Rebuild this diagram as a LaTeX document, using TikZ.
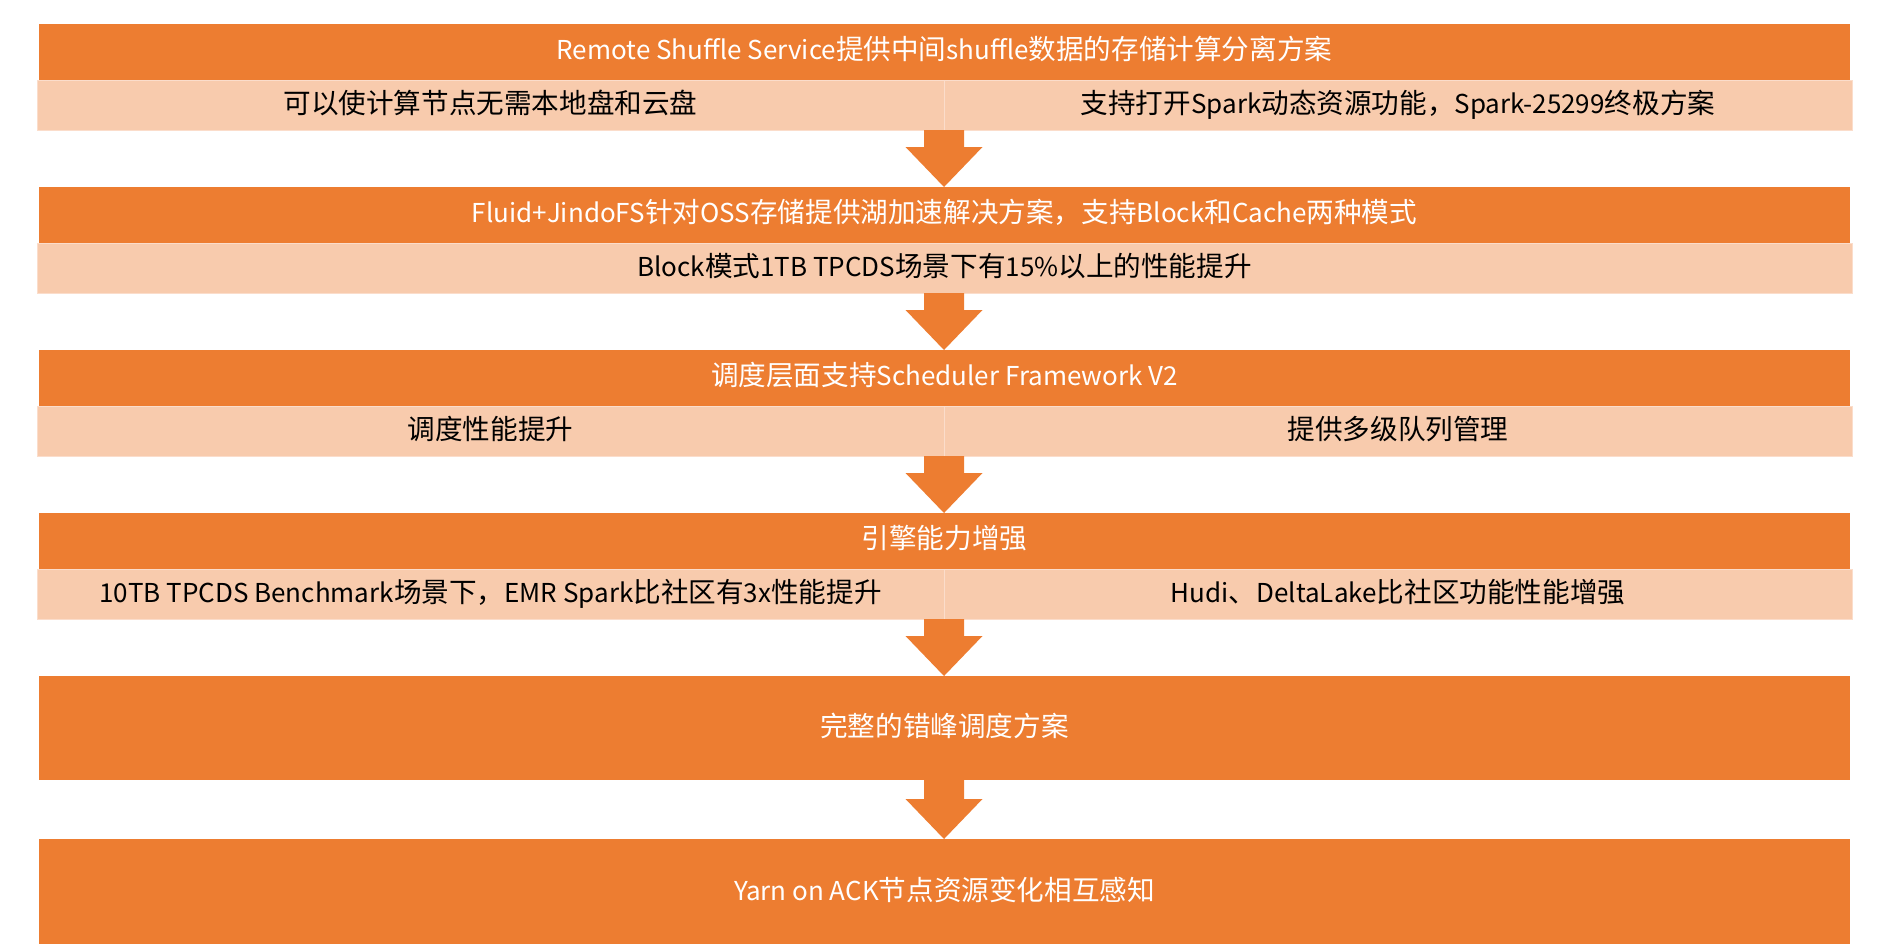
\documentclass[tikz,border=0pt]{standalone}
\usepackage{fontspec}
\setmainfont{Noto Sans CJK SC}
\newfontfamily\enfont[Scale=0.942]{Noto Sans CJK SC}
\newcommand{\enrun}[1]{{\enfont #1}}
\usetikzlibrary{positioning,calc}

\definecolor{accent}{HTML}{ED7D31}
\definecolor{accentlight}{HTML}{F8CBAD}
\definecolor{cellrule}{HTML}{FBDDCB}

% block arrow from a start point down to the next stage
\newcommand{\stagearrow}[2]{%
  \fill[accent] ($(#1)+(-20,0)$) -- ($(#1 |- #2.north)+(-20,40)$) -- ++(-18.5,0)
    -- (#1 |- #2.north) -- ++(38.5,40) -- ++(-18.5,0) -- ($(#1)+(20,0)$) -- cycle;}

\begin{document}
\begin{tikzpicture}[
        x=0.5pt, y=0.5pt,
        font=\fontsize{13.8pt}{16pt}\selectfont,
        header/.style={rectangle, minimum width=905.5pt, minimum height=28pt, inner sep=0pt, outer sep=0pt, text height=10pt, text depth=2.6pt, fill=accent, text=white, align=center},
        bigstage/.style={header, minimum height=52pt, text depth=1.4pt},
        lefthalf/.style={rectangle, minimum width=453.5pt, minimum height=25pt, inner sep=0pt, outer sep=0pt, text height=10pt, text depth=1.4pt, fill=accentlight, draw=cellrule, line width=0.5pt, text=black, align=center},
        righthalf/.style={lefthalf, minimum width=454pt},
        widecell/.style={lefthalf, minimum width=907.5pt}
    ]
        \useasboundingbox (0,0) rectangle (1883,-944);

        % --- Shuffle service ---
        \node (head1) [header] at (944.5,-52) {\enrun{Remote Shuffle Service}提供中间\enrun{shuffle}数据的存储计算分离方案};
        \node (left1) [lefthalf, anchor=north west, xshift=-1pt] at (head1.south west) {可以使计算节点无需本地盘和云盘};
        \node (right1) [righthalf, right=0pt of left1] {支持打开\enrun{Spark}动态资源功能，\enrun{Spark-25299}终极方案};

        % --- Data lake acceleration ---
        \node (head2) [header] at (944.5,-215) {\enrun{Fluid+JindoFS}针对\enrun{OSS}存储提供湖加速解决方案，支持\enrun{Block}和\enrun{Cache}两种模式};
        \node (wide2) [widecell, anchor=north west, xshift=-1pt] at (head2.south west) {\enrun{Block}模式\enrun{1TB TPCDS}场景下有\enrun{15\%}以上的性能提升};

        % --- Scheduler ---
        \node (head3) [header] at (944.5,-378) {调度层面支持\enrun{Scheduler Framework V2}};
        \node (left3) [lefthalf, anchor=north west, xshift=-1pt] at (head3.south west) {调度性能提升};
        \node (right3) [righthalf, right=0pt of left3] {提供多级队列管理};

        % --- Engine ---
        \node (head4) [header] at (944.5,-541) {引擎能力增强};
        \node (left4) [lefthalf, anchor=north west, xshift=-1pt] at (head4.south west) {\enrun{10TB TPCDS Benchmark}场景下，\enrun{EMR Spark}比社区有\enrun{3x}性能提升};
        \node (right4) [righthalf, right=0pt of left4] {\enrun{Hudi}、\enrun{DeltaLake}比社区功能性能增强};

        % --- Last stages ---
        \node (stage5) [bigstage] at (944.5,-728) {完整的错峰调度方案};
        \node (stage6) [bigstage, minimum height=52.5pt] at (944.5,-891.5) {\enrun{Yarn on ACK}节点资源变化相互感知};

        % --- Connections ---
        \coordinate (out1) at (left1.south east);
        \coordinate (out2) at (wide2.south -| left1.south east);
        \coordinate (out3) at (left3.south east);
        \coordinate (out4) at (left4.south east);
        \coordinate (out5) at (stage5.south -| left4.south east);

        \stagearrow{out1}{head2}
        \stagearrow{out2}{head3}
        \stagearrow{out3}{head4}
        \stagearrow{out4}{stage5}
        \stagearrow{out5}{stage6}

    \end{tikzpicture}
\end{document}
